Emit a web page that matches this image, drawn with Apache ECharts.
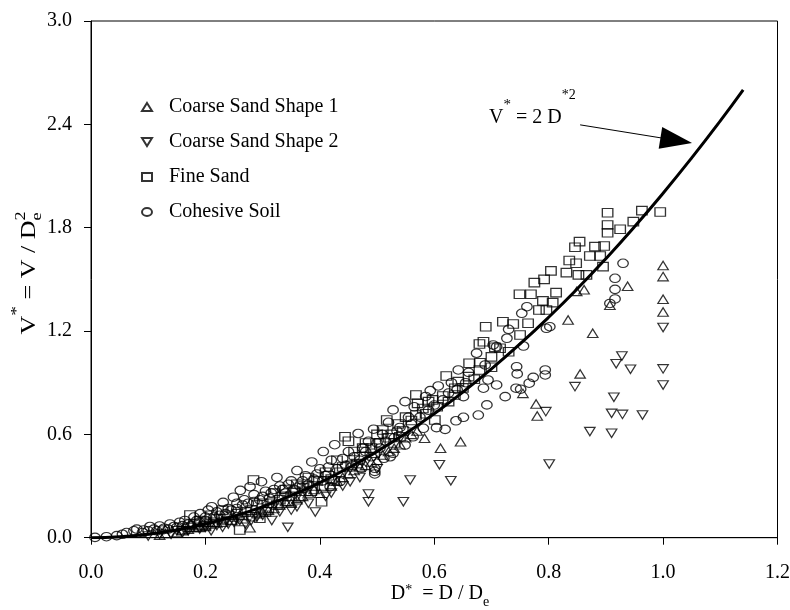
<!DOCTYPE html>
<html><head><meta charset="utf-8">
<script src="https://cdn.jsdelivr.net/npm/echarts@6/dist/echarts.min.js"></script>
<style>html,body{margin:0;padding:0;background:#fff}#c{width:790px;height:610px}</style>
</head><body><div id="c"></div>
<script>
// ---- data (D* = D/De, V* = V/De^2) ----
const xTickLabels = ['0.0','0.2','0.4','0.6','0.8','1.0','1.2'];
const yTickLabels = ['0.0','0.6','1.2','1.8','2.4','3.0'];

const coarseSand1 = [
 [0.12,0.015],[0.13,0.025],[0.15,0.03],[0.16,0.045],[0.17,0.05],[0.18,0.06],[0.19,0.07],[0.2,0.065],
 [0.21,0.08],[0.22,0.085],[0.23,0.1],[0.246,0.103],[0.25,0.12],[0.26,0.13],[0.278,0.058],[0.29,0.14],
 [0.3,0.15],[0.31,0.16],[0.32,0.17],[0.33,0.19],[0.34,0.21],[0.35,0.2],[0.36,0.22],[0.37,0.24],
 [0.38,0.26],[0.39,0.28],[0.4,0.258],[0.42,0.3],[0.43,0.33],[0.44,0.35],[0.45,0.37],[0.46,0.39],
 [0.47,0.41],[0.48,0.42],[0.49,0.44],[0.5,0.45],[0.51,0.48],[0.52,0.5],[0.53,0.52],[0.54,0.54],
 [0.55,0.58],[0.56,0.6],[0.57,0.62],[0.583,0.577],[0.611,0.519],[0.646,0.557],
 [0.755,0.838],[0.778,0.776],[0.78,0.707],[0.834,1.264],[0.849,1.43],[0.862,1.44],
 [0.855,0.951],[0.877,1.187],[0.907,1.35],[0.938,1.46],
 [1.0,1.58],[1.0,1.516],[1.0,1.384],[1.0,1.31]
];
const coarseSand2 = [
 [0.1,0.01],[0.12,0.02],[0.14,0.02],[0.15,0.04],[0.16,0.03],[0.17,0.04],[0.19,0.05],[0.2,0.06],
 [0.21,0.04],[0.22,0.07],[0.23,0.06],[0.24,0.08],[0.25,0.09],[0.26,0.1],[0.27,0.08],[0.28,0.1],
 [0.29,0.12],[0.3,0.13],[0.316,0.1],[0.33,0.15],[0.344,0.06],[0.35,0.16],[0.36,0.18],[0.38,0.2],
 [0.392,0.149],[0.41,0.24],[0.42,0.26],[0.44,0.3],[0.453,0.325],[0.47,0.35],[0.485,0.254],
 [0.485,0.209],[0.5,0.4],[0.546,0.209],[0.558,0.335],[0.609,0.424],[0.629,0.331],[0.795,0.732],
 [0.801,0.428],[0.846,0.877],[0.872,0.616],[0.91,0.606],[0.91,0.722],[0.914,0.815],[0.918,1.01],
 [0.928,1.055],[0.929,0.716],[0.943,0.978],[0.964,0.712],[1.0,1.22],[1.0,0.98],[1.0,0.887]
];
const fineSand = [
 [0.16,0.04],[0.17,0.06],[0.173,0.132],[0.18,0.08],[0.19,0.06],[0.19,0.1],[0.2,0.07],[0.2,0.09],
 [0.21,0.13],[0.215,0.09],[0.22,0.11],[0.23,0.09],[0.23,0.16],[0.24,0.13],[0.245,0.1],[0.255,0.14],
 [0.26,0.045],[0.265,0.11],[0.27,0.15],[0.28,0.16],[0.281,0.122],[0.284,0.335],[0.29,0.19],
 [0.295,0.113],[0.3,0.2],[0.305,0.15],[0.31,0.17],[0.315,0.2],[0.32,0.26],[0.325,0.19],[0.33,0.22],
 [0.335,0.24],[0.34,0.28],[0.345,0.21],[0.35,0.24],[0.355,0.27],[0.36,0.31],[0.365,0.238],
 [0.37,0.29],[0.375,0.27],[0.38,0.35],[0.385,0.27],[0.39,0.3],[0.395,0.33],[0.403,0.209],
 [0.405,0.3],[0.41,0.38],[0.415,0.36],[0.42,0.34],[0.425,0.33],[0.43,0.45],[0.435,0.38],
 [0.44,0.41],[0.444,0.586],[0.45,0.56],[0.455,0.42],[0.46,0.5],[0.465,0.43],[0.47,0.47],
 [0.475,0.52],[0.48,0.55],[0.49,0.52],[0.495,0.49],[0.5,0.6],[0.505,0.55],[0.51,0.625],
 [0.517,0.683],[0.52,0.58],[0.525,0.6],[0.53,0.55],[0.537,0.66],[0.54,0.586],[0.545,0.62],
 [0.55,0.7],[0.56,0.68],[0.568,0.829],[0.568,0.712],[0.571,0.78],[0.58,0.75],[0.585,0.72],
 [0.59,0.79],[0.597,0.8],[0.601,0.683],[0.605,0.76],[0.615,0.823],[0.621,0.939],[0.625,0.79],
 [0.636,0.868],[0.636,0.829],[0.642,0.906],[0.65,0.87],[0.66,0.935],[0.661,1.013],[0.67,0.92],
 [0.679,0.974],[0.679,1.125],[0.68,1.016],[0.686,1.138],[0.69,1.225],[0.7,0.99],[0.7,1.05],
 [0.706,1.106],[0.715,1.1],[0.72,1.254],[0.73,1.08],[0.738,1.241],[0.749,1.413],[0.75,1.177],
 [0.764,1.245],[0.769,1.413],[0.775,1.481],[0.783,1.322],[0.79,1.375],[0.792,1.5],[0.796,1.322],
 [0.804,1.549],[0.807,1.365],[0.813,1.423],[0.831,1.539],[0.836,1.609],[0.846,1.686],
 [0.848,1.593],[0.852,1.526],[0.854,1.719],[0.866,1.526],[0.872,1.636],[0.881,1.69],
 [0.89,1.636],[0.895,1.574],[0.897,1.694],[0.903,1.887],[0.903,1.816],[0.903,1.771],
 [0.925,1.791],[0.948,1.835],[0.963,1.899],[0.995,1.891]
];
const cohesiveSoil = [
 [0.007,0.002],[0.027,0.006],[0.045,0.012],[0.055,0.02],[0.062,0.03],[0.075,0.04],[0.08,0.05],
 [0.09,0.03],[0.092,0.045],[0.1,0.04],[0.103,0.065],[0.11,0.05],[0.115,0.04],[0.12,0.068],
 [0.125,0.045],[0.128,0.055],[0.135,0.05],[0.138,0.08],[0.145,0.065],[0.15,0.06],[0.155,0.09],
 [0.16,0.07],[0.164,0.1],[0.17,0.08],[0.175,0.07],[0.18,0.12],[0.185,0.1],[0.19,0.09],
 [0.191,0.14],[0.2,0.12],[0.2,0.1],[0.205,0.16],[0.211,0.18],[0.215,0.12],[0.22,0.15],
 [0.225,0.13],[0.231,0.205],[0.235,0.14],[0.24,0.17],[0.245,0.16],[0.249,0.235],[0.255,0.2],
 [0.255,0.17],[0.261,0.275],[0.265,0.19],[0.268,0.22],[0.275,0.2],[0.278,0.296],[0.285,0.25],
 [0.285,0.21],[0.295,0.22],[0.298,0.325],[0.3,0.24],[0.305,0.27],[0.312,0.23],[0.315,0.26],
 [0.32,0.28],[0.325,0.35],[0.33,0.3],[0.335,0.28],[0.34,0.26],[0.345,0.31],[0.35,0.33],
 [0.355,0.28],[0.36,0.39],[0.365,0.3],[0.37,0.33],[0.375,0.36],[0.38,0.31],[0.386,0.44],
 [0.39,0.34],[0.395,0.37],[0.4,0.4],[0.405,0.33],[0.406,0.5],[0.41,0.36],[0.415,0.41],
 [0.418,0.296],[0.42,0.45],[0.426,0.54],[0.43,0.4],[0.435,0.325],[0.44,0.46],[0.445,0.42],
 [0.45,0.5],[0.455,0.41],[0.46,0.47],[0.467,0.605],[0.47,0.45],[0.473,0.403],[0.475,0.52],
 [0.48,0.5],[0.485,0.56],[0.49,0.47],[0.494,0.63],[0.496,0.403],[0.496,0.37],[0.496,0.385],
 [0.5,0.55],[0.505,0.52],[0.51,0.6],[0.512,0.461],[0.515,0.56],[0.52,0.67],[0.523,0.47],
 [0.528,0.742],[0.528,0.49],[0.53,0.58],[0.535,0.62],[0.54,0.64],[0.549,0.538],[0.549,0.79],
 [0.555,0.7],[0.56,0.66],[0.563,0.586],[0.565,0.76],[0.575,0.7],[0.581,0.635],[0.585,0.82],
 [0.59,0.74],[0.593,0.854],[0.6,0.77],[0.604,0.639],[0.607,0.881],[0.615,0.8],[0.619,0.629],
 [0.625,0.84],[0.63,0.9],[0.638,0.679],[0.64,0.86],[0.642,0.974],[0.651,0.699],[0.651,0.819],
 [0.655,0.9],[0.66,0.96],[0.674,1.071],[0.677,0.712],[0.686,0.868],[0.689,1.003],[0.692,0.771],
 [0.694,0.916],[0.703,1.119],[0.709,0.887],[0.709,1.109],[0.724,0.819],[0.727,1.158],
 [0.73,1.21],[0.743,0.868],[0.744,0.993],[0.745,0.951],[0.751,0.862],[0.753,1.303],
 [0.756,1.113],[0.762,1.341],[0.766,0.897],[0.773,0.931],[0.794,0.945],[0.794,0.974],
 [0.796,1.216],[0.802,1.225],[0.907,1.36],[0.916,1.386],[0.916,1.442],[0.916,1.506],[0.93,1.593]
];
// fitted curve V* = 2 D*^2
const curveD = [0,0.05,0.1,0.15,0.2,0.25,0.3,0.35,0.4,0.45,0.5,0.55,0.6,0.65,0.7,0.75,0.8,0.85,0.9,0.95,1.0,1.05,1.1,1.14];
const curveV = [0,0.005,0.02,0.045,0.08,0.125,0.18,0.245,0.32,0.405,0.5,0.605,0.72,0.845,0.98,1.125,1.28,1.445,1.62,1.805,2.0,2.205,2.42,2.6];
const arrowFrom = [0.855, 2.397];
const arrowTo = [1.023, 2.307];

// ---- chart ----
const FONT = "'Liberation Serif','Times New Roman',serif";
const ELLIPSE = 'path://M0,4a5,4 0 1,0 10,0a5,4 0 1,0 -10,0Z';
const RECT = 'path://M0,0H10V8H0Z';
const TRI_UP = 'path://M5,0L10,8L0,8Z';
const TRI_DOWN = 'path://M0,0L10,0L5,8Z';
const hollow = {color:'rgba(255,255,255,0)', borderColor:'#000', borderWidth:1.2};

const mctx = document.createElement('canvas').getContext('2d');
function tw(t, size){ mctx.font = size + "px 'Liberation Serif'"; return mctx.measureText(t).width; }
// pieces: [text, fontSize, dy, stackWithPrevious]
function mathText(pieces, opts){
  let x = 0; const kids = []; let prevX = 0;
  pieces.forEach(p => {
    const w = tw(p[0], p[1]);
    let px = x;
    if (p[3]) { px = prevX; }
    kids.push({type:'text', x:px, y:p[2], silent:true,
      style:{text:p[0], fontFamily:FONT, fontSize:p[1], fill:'#000', align:'left', verticalAlign:'middle'}});
    if (p[3]) { x = Math.max(x, px + w); } else { prevX = px; x = px + w; }
  });
  const total = x;
  const shift = opts.align === 'center' ? -total/2 : 0;
  kids.forEach(k => k.x += shift);
  return {type:'group', x:opts.x, y:opts.y, rotation:opts.rotation||0,
          scaleX:opts.scaleX||1, scaleY:1, silent:true, children:kids};
}

function scatter(name, data, symbol){
  return {name, type:'scatter', data, symbol, symbolSize:[10.5,8.5], itemStyle:hollow,
          emphasis:{disabled:true}, z:2};
}
const chart = echarts.init(document.getElementById('c'), null, {renderer:'canvas'});
chart.setOption({
  animation:false,
  backgroundColor:'#fff',
  grid:{left:91, right:12.5, top:21, bottom:72.3, containLabel:false, outerBoundsMode:'none',
        show:true, borderColor:'#000', borderWidth:1},
  xAxis:{type:'value', min:0, max:1.2, interval:0.2,
    axisLine:{lineStyle:{color:'#000', width:1}},
    axisTick:{show:true, inside:false, length:7, lineStyle:{color:'#000'}},
    splitLine:{show:false},
    axisLabel:{margin:25, color:'#000', fontFamily:FONT, fontSize:20,
      formatter:v=>xTickLabels[Math.round(v/0.2)]}},
  yAxis:{type:'value', min:0, max:3.0, interval:0.6,
    axisLine:{lineStyle:{color:'#000', width:1}},
    axisTick:{show:true, inside:false, length:7, lineStyle:{color:'#000'}},
    splitLine:{show:false},
    axisLabel:{margin:19, color:'#000', fontFamily:FONT, fontSize:20,
      formatter:v=>yTickLabels[Math.round(v/0.6)]}},
  legend:{orient:'vertical', left:136, top:92, itemWidth:34, itemHeight:8, itemGap:15,
    selectedMode:false,
    textStyle:{fontFamily:FONT, fontSize:20, color:'#000', lineHeight:20},
    data:[{name:'Coarse Sand Shape 1', icon:TRI_UP},{name:'Coarse Sand Shape 2', icon:TRI_DOWN},
          {name:'Fine Sand', icon:RECT},{name:'Cohesive Soil', icon:ELLIPSE}]},
  series:[
    scatter('Coarse Sand Shape 1', coarseSand1, TRI_UP),
    scatter('Coarse Sand Shape 2', coarseSand2, TRI_DOWN),
    scatter('Fine Sand', fineSand, RECT),
    scatter('Cohesive Soil', cohesiveSoil, ELLIPSE),
    {name:'fit', type:'line', data:curveD.map((d,i)=>[d,curveV[i]]), smooth:true, showSymbol:false,
     symbol:'none', lineStyle:{color:'#000', width:3}, z:5, emphasis:{disabled:true},
     markLine:{silent:true, animation:false, symbol:['none','triangle'], symbolSize:[0,30],
       lineStyle:{color:'#000', width:1, type:'solid'}, label:{show:false},
       itemStyle:{color:'#000'},
       data:[[{coord:arrowFrom, symbol:'none'},{coord:arrowTo, symbol:'triangle', symbolSize:[22,32]}]]}}
  ],
  graphic:[
    mathText([['V',20,0],['*',15,-13],[' = 2 D',20,0],['*2',14,-23]], {x:489, y:118}),
    mathText([['D',20,0],['*',14,-3],['  = D / D',20,0],['e',14,9]], {x:440, y:593.5, align:'center'}),
    mathText([['V',20,0],['*',15,-13],[' = V / D',20,0],['e',14,7],['2',14,-9,true]],
             {x:30, y:273, align:'center', rotation:Math.PI/2, scaleX:1.3})
  ]
});
</script></body></html>
